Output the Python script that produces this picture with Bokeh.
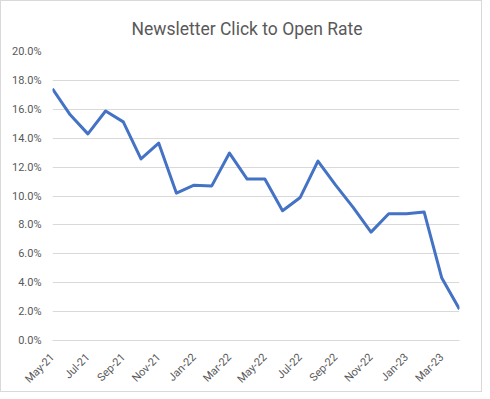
import math
from bokeh.plotting import figure
from bokeh.models import FixedTicker, NumeralTickFormatter, ColumnDataSource
from bokeh.embed import file_html
from bokeh.resources import INLINE

months = ["May-21", "Jun-21", "Jul-21", "Aug-21", "Sep-21", "Oct-21", "Nov-21", "Dec-21",
          "Jan-22", "Feb-22", "Mar-22", "Apr-22", "May-22", "Jun-22", "Jul-22", "Aug-22",
          "Sep-22", "Oct-22", "Nov-22", "Dec-22", "Jan-23", "Feb-23", "Mar-23", "Apr-23"]
rate = [0.1742, 0.1562, 0.1430, 0.1588, 0.1513, 0.1257, 0.1366, 0.1020,
        0.1075, 0.1070, 0.1297, 0.1117, 0.1117, 0.0898, 0.0990, 0.1242,
        0.1075, 0.0920, 0.0750, 0.0877, 0.0877, 0.0890, 0.0432, 0.0217]
y_ticks = [0.0, 0.02, 0.04, 0.06, 0.08, 0.10, 0.12, 0.14, 0.16, 0.18, 0.20]
label_months = months[::2]

idx = list(range(len(months)))
src = ColumnDataSource(dict(x=idx, y=rate))

p = figure(width=482, height=392, output_backend="svg", toolbar_location=None,
           x_range=(0, len(months) - 1), y_range=(0, 0.2),
           title="Newsletter Click to Open Rate",
           min_border_left=51, min_border_right=24, min_border_top=50, min_border_bottom=53)
p.styles = {"border": "1px solid #d9d9d9"}

p.title.align = "left"
p.title.offset = 79
p.title.standoff = 26
p.title.text_font = "Roboto"
p.title.text_font_size = "17.5px"
p.title.text_font_style = "normal"
p.title.text_color = "#595959"

p.outline_line_color = None
p.xgrid.grid_line_color = None
p.ygrid.grid_line_color = "#d9d9d9"
p.ygrid.grid_line_width = 1

p.yaxis.ticker = FixedTicker(ticks=y_ticks)
p.yaxis.formatter = NumeralTickFormatter(format="0.0%")
p.yaxis.axis_line_color = None
p.yaxis.major_tick_line_color = None
p.yaxis.major_tick_out = 0
p.yaxis.major_tick_in = 0
p.yaxis.minor_tick_line_color = None
p.yaxis.major_label_text_font = "Roboto"
p.yaxis.major_label_text_font_size = "11px"
p.yaxis.major_label_text_color = "#595959"
p.yaxis.major_label_standoff = 11

p.xaxis.ticker = FixedTicker(ticks=idx[::2])
p.xaxis.major_label_overrides = {i: m for i, m in zip(idx[::2], label_months)}
p.xaxis.major_label_orientation = math.pi / 4
p.xaxis.axis_line_color = "#d9d9d9"
p.xaxis.major_tick_line_color = None
p.xaxis.major_tick_out = 0
p.xaxis.major_tick_in = 0
p.xaxis.minor_tick_line_color = None
p.xaxis.major_label_text_font = "Roboto"
p.xaxis.major_label_text_font_size = "11px"
p.xaxis.major_label_text_color = "#595959"
p.xaxis.major_label_standoff = 15

p.line("x", "y", source=src, line_color="#4472C4", line_width=3, line_join="round")

open("out.html", "w").write(file_html(p, INLINE))
